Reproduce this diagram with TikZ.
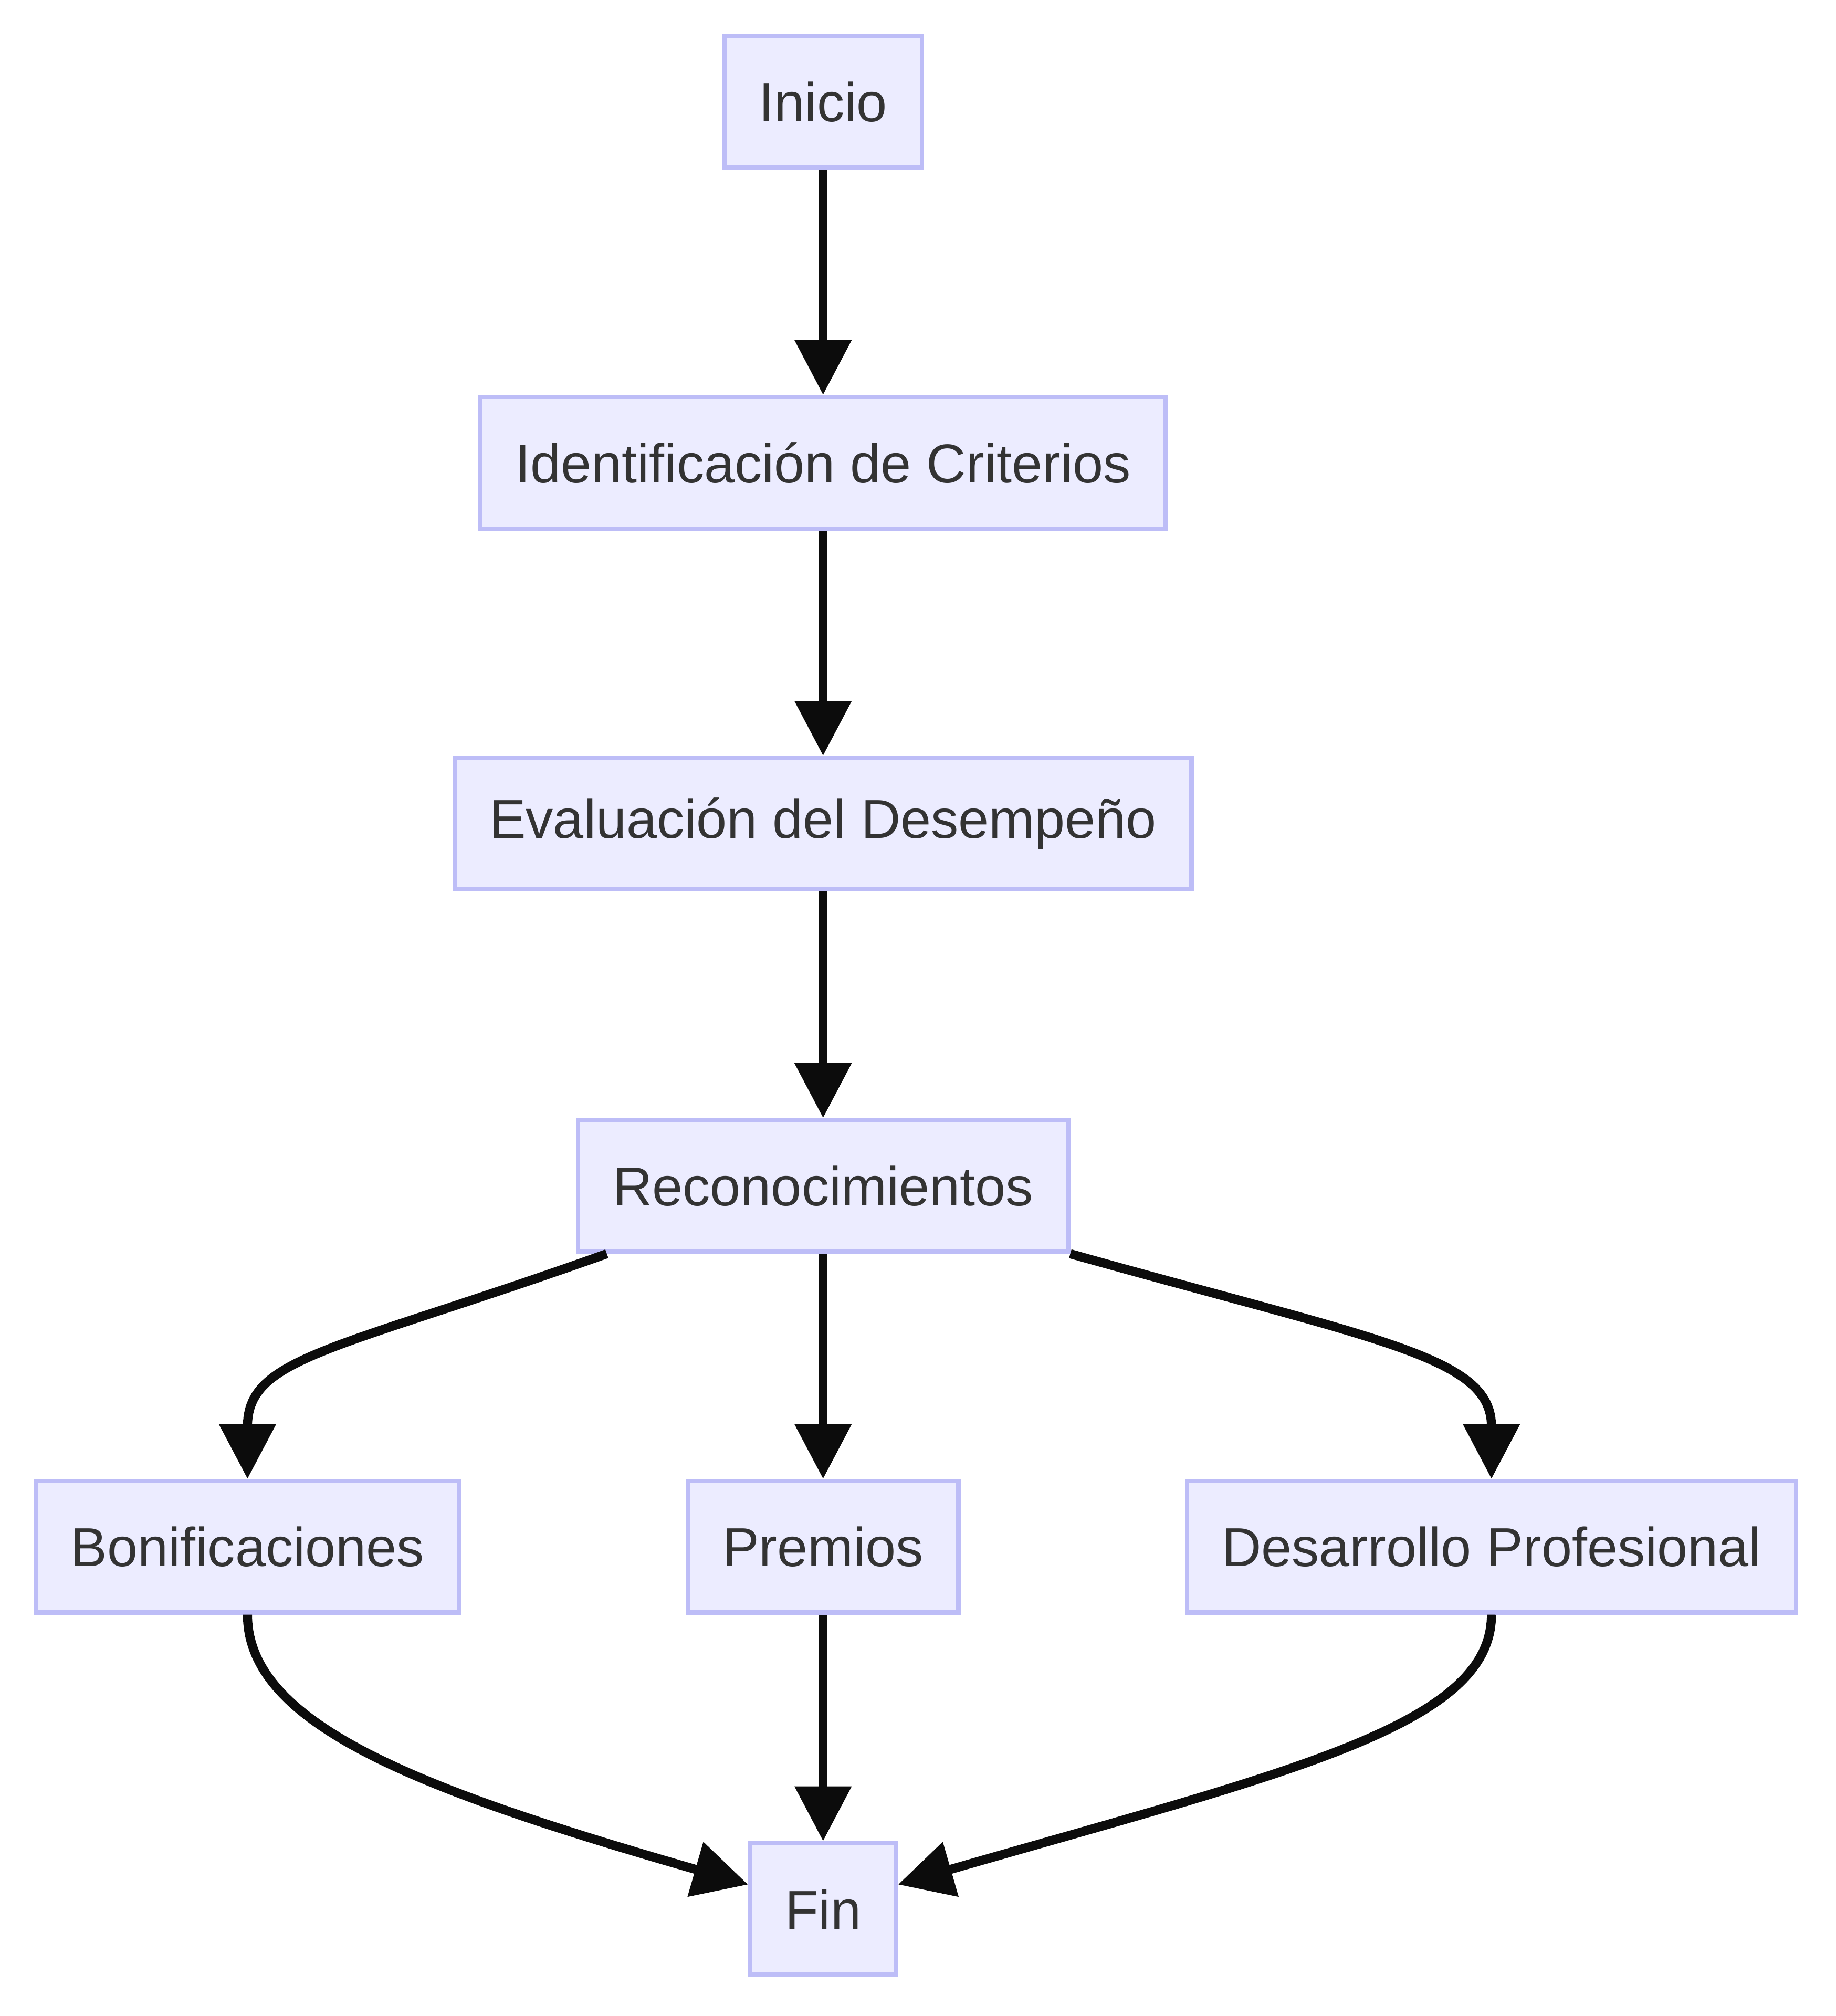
\documentclass[tikz,border=0pt]{standalone}
\usepackage{fontspec}
\setmainfont{Liberation Sans}
\usetikzlibrary{arrows.meta}
\definecolor{fondo}{HTML}{ECECFF}
\definecolor{borde}{HTML}{BDBDF7}
\definecolor{texto}{HTML}{333333}
\definecolor{linea}{HTML}{0C0C0C}

\begin{document}
\begin{tikzpicture}[
    caja/.style={draw=borde, fill=fondo, line width=1.9pt, text=texto,
        minimum height=2.04cm, inner xsep=0.54cm,
        font=\fontsize{24.2}{28}\selectfont},
    flecha/.style={draw=linea, line width=4pt,
        -{Triangle[length=0.85cm,width=0.85cm]}}
]
\useasboundingbox (0,0) rectangle (28.48,-31.28);

\node[caja] (inicio) at (12.77,-1.58) {Inicio};
\node[caja] (ident) at (12.77,-7.18) {Identificación de Criterios};
\node[caja] (eval) at (12.77,-12.78) {Evaluación del Desempeño};
\node[caja] (reco) at (12.77,-18.40) {Reconocimientos};
\node[caja] (bonif) at (3.84,-24.0) {Bonificaciones};
\node[caja] (premios) at (12.77,-24.0) {Premios};
\node[caja] (desa) at (23.14,-24.0) {Desarrollo Profesional};
\node[caja] (fin) at (12.77,-29.62) {Fin};

\foreach \a/\b in {inicio/ident,ident/eval,eval/reco,reco/premios,premios/fin}
    \draw[flecha] (\a) -- (\b);

\draw[flecha] ([xshift=0.48cm]reco.south west) .. controls +(-4.2,-1.5) and +(0,1.9) .. (bonif.north);
\draw[flecha] (reco.south east) .. controls +(4.8,-1.35) and +(0,1.9) .. (desa.north);
\draw[flecha] (bonif.south) .. controls +(0,-1.72) and +(-5.06,1.46) .. ([yshift=0.38cm]fin.west);
\draw[flecha] (desa.south) .. controls +(0,-1.72) and +(6.1,1.76) .. ([yshift=0.38cm]fin.east);

\end{tikzpicture}
\end{document}
